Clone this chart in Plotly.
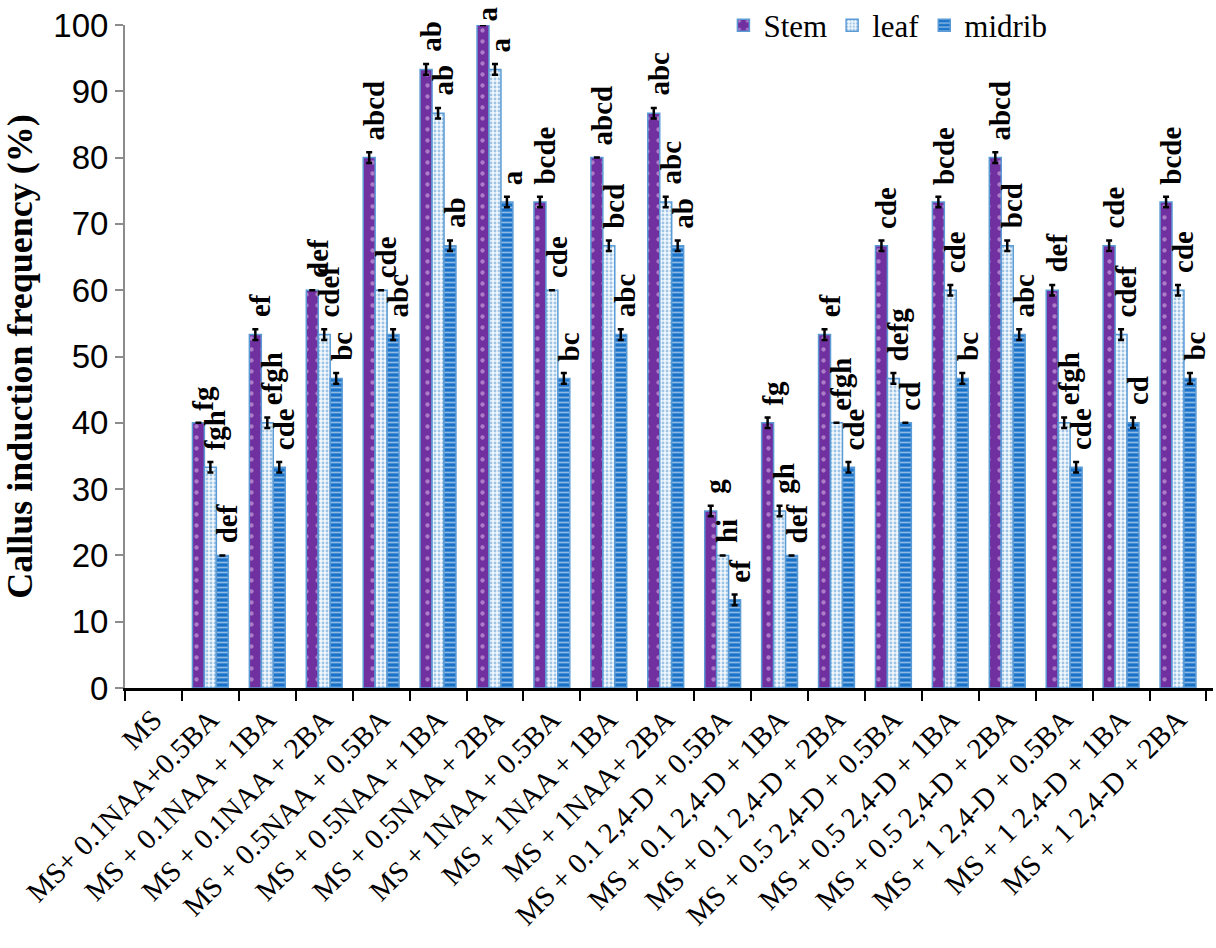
import plotly.graph_objects as go

# Treatments (x categories)
treatments = [
    "MS",
    "MS+ 0.1NAA+0.5BA",
    "MS + 0.1NAA + 1BA",
    "MS + 0.1NAA + 2BA",
    "MS + 0.5NAA + 0.5BA",
    "MS + 0.5NAA + 1BA",
    "MS + 0.5NAA + 2BA",
    "MS + 1NAA + 0.5BA",
    "MS + 1NAA + 1BA",
    "MS + 1NAA+ 2BA",
    "MS + 0.1 2,4-D + 0.5BA",
    "MS + 0.1 2,4-D + 1BA",
    "MS + 0.1 2,4-D + 2BA",
    "MS + 0.5 2,4-D + 0.5BA",
    "MS + 0.5 2,4-D + 1BA",
    "MS + 0.5 2,4-D + 2BA",
    "MS + 1 2,4-D + 0.5BA",
    "MS + 1 2,4-D + 1BA",
    "MS + 1 2,4-D + 2BA",
]

# Callus induction frequency (%) per explant
stem = [0, 40, 53.3, 60, 80, 93.3, 100, 73.3, 80, 86.7, 26.7, 40, 53.3, 66.7, 73.3, 80, 60, 66.7, 73.3]
leaf = [0, 33.3, 40, 53.3, 60, 86.7, 93.3, 60, 66.7, 73.3, 20, 26.7, 40, 46.7, 60, 66.7, 40, 53.3, 60]
midrib = [0, 20, 33.3, 46.7, 53.3, 66.7, 73.3, 46.7, 53.3, 66.7, 13.3, 20, 33.3, 40, 46.7, 53.3, 33.3, 40, 46.7]

# Standard errors
stem_err = [0, 0, 0.8, 0, 0.8, 0.8, 0, 0.8, 0, 0.8, 0.8, 0.8, 0.8, 0.8, 0.8, 0.8, 0.8, 0.8, 0.8]
leaf_err = [0, 0.8, 0.8, 0.8, 0, 0.8, 0.8, 0, 0.8, 0.8, 0, 0.8, 0, 0.8, 0.8, 0.8, 0.8, 0.8, 0.8]
midrib_err = [0, 0, 0.8, 0.8, 0.8, 0.8, 0.8, 0.8, 0.8, 0.8, 0.8, 0, 0.8, 0, 0.8, 0.8, 0.8, 0.8, 0.8]

# Mean separation letters
stem_letters = ["", "fg", "ef", "def", "abcd", "ab", "a", "bcde", "abcd", "abc", "g", "fg", "ef", "cde", "bcde", "abcd", "def", "cde", "bcde"]
leaf_letters = ["", "fgh", "efgh", "cdef", "cde", "ab", "a", "cde", "bcd", "abc", "hi", "gh", "efgh", "defg", "cde", "bcd", "efgh", "cdef", "cde"]
midrib_letters = ["", "def", "cde", "bc", "abc", "ab", "a", "bc", "abc", "ab", "ef", "def", "cde", "cd", "bc", "abc", "cde", "cd", "bc"]

OUTLINE = "#5B9BD5"
SERIF = "Liberation Serif, Times New Roman, serif"

series = [
    ("Stem", stem, stem_err, stem_letters,
     dict(shape=".", bgcolor="#7030A0", fgcolor="#E8C8F0", size=11, solidity=0.12)),
    ("leaf", leaf, leaf_err, leaf_letters,
     dict(shape=".", bgcolor="#F2F8FD", fgcolor="#4A8FD0", size=4, solidity=0.4)),
    ("midrib", midrib, midrib_err, midrib_letters,
     dict(shape="-", bgcolor="#1A73C9", fgcolor="#FFFFFF", size=5, solidity=0.35)),
]

fig = go.Figure()
for name, vals, errs, _, pattern in series:
    # zero values (no callus) leave an empty slot, with no bar or error cap
    fig.add_trace(go.Bar(
        name=name,
        x=treatments,
        y=[v if v else None for v in vals],
        marker=dict(color=pattern["bgcolor"], pattern=pattern,
                    line=dict(color=OUTLINE, width=1.5)),
        error_y=dict(type="data", array=errs,
                     visible=True, color="black", thickness=2.5, width=3),
    ))

# Letters above each bar, reading bottom-to-top
bar_shift = [-12, 0, 12]
annotations = []
for k, (name, vals, errs, letters, _) in enumerate(series):
    for i, t in enumerate(treatments):
        if not letters[i]:
            continue
        top = vals[i] + errs[i]
        annotations.append(dict(
            x=t, y=top, xref="x", yref="y",
            text="<b>%s</b>" % letters[i], showarrow=False,
            textangle=-90, xanchor="center", yanchor="bottom",
            xshift=bar_shift[k] + 5, yshift=10 if top < 98 else 2,
            font=dict(family=SERIF, size=29, color="black"),
        ))

fig.update_layout(
    width=1216, height=948,
    margin=dict(l=125, r=3, t=25, b=260, autoexpand=False),
    paper_bgcolor="white", plot_bgcolor="white",
    barmode="group", bargap=0.37, bargroupgap=0,
    annotations=annotations,
    legend=dict(orientation="h", x=0.55, y=1.04, xanchor="left", yanchor="top",
                font=dict(family=SERIF, size=31, color="black"),
                bgcolor="rgba(0,0,0,0)", itemwidth=30, tracegroupgap=0),
    showlegend=True,
)

fig.update_xaxes(
    type="category", tickangle=-45, tickson="boundaries",
    showline=True, linecolor="black", linewidth=3,
    ticks="outside", ticklen=10, tickwidth=2, tickcolor="black",
    tickfont=dict(family=SERIF, size=29, color="black"),
    showgrid=False, zeroline=False,
)
fig.update_yaxes(
    range=[0, 100], dtick=10,
    showline=True, linecolor="#8C8C8C", linewidth=2,
    ticks="outside", ticklen=8, tickwidth=2, tickcolor="#8C8C8C",
    tickfont=dict(family="Liberation Sans Narrow, Liberation Sans, Arial, sans-serif", size=33, color="black"),
    showgrid=False, zeroline=False,
    title=dict(text="<b>Callus induction frequency (%)</b>", standoff=12,
               font=dict(family=SERIF, size=36, color="black")),
)

fig.write_html("out.html")
